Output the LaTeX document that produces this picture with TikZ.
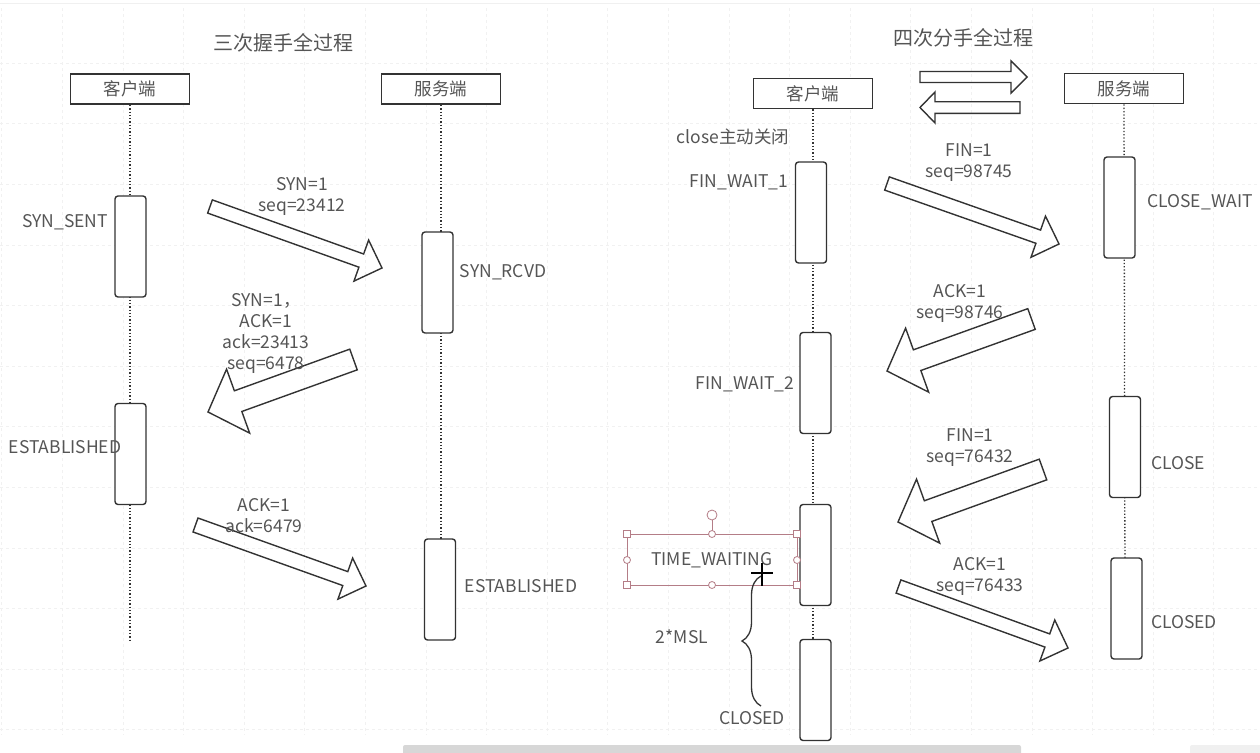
\documentclass[tikz,border=0pt]{standalone}
\usepackage{fontspec}
\setmainfont{Noto Sans CJK SC}
\usepackage{tikz}
\usetikzlibrary{calc,decorations.pathreplacing}

\definecolor{inkgray}{RGB}{51,51,51}
\definecolor{txtgray}{RGB}{85,85,85}
\definecolor{gridgray}{RGB}{241,241,241}
\definecolor{selpink}{RGB}{180,125,135}
\definecolor{barggray}{RGB}{215,215,215}

\tikzset{
  hdrbox/.style={draw=inkgray,line width=1.8pt,fill=white,minimum width=119pt,minimum height=30pt,inner sep=0pt,text=txtgray,font=\fontsize{17.5}{20}\selectfont},
  actbox/.style={draw=inkgray,line width=1.4pt,fill=white,rounded corners=3pt,minimum width=31pt,minimum height=101pt,inner sep=0pt},
  lifeline/.style={draw=inkgray,line width=1.3pt,dash pattern=on 1.3pt off 2pt},
  lbl/.style={text=txtgray,inner sep=0.75pt,align=center,font=\fontsize{17.5}{21}\selectfont},
  ttl/.style={text=txtgray,inner sep=0.75pt,font=\fontsize{20}{24}\selectfont},
  fatline/.style={draw=inkgray,line width=1.4pt,line join=miter},
  gridline/.style={draw=gridgray,line width=0.6pt,dash pattern=on 3pt off 3pt},
  selframe/.style={draw=selpink,line width=0.8pt},
}

% hollow block arrow: tail, tip, shaft half width, head half width, head length
\newcommand{\fatarrow}[5]{%
  \coordinate (hb) at ($(#2)!#5!(#1)$);
  \draw[fatline] ($(#1)!#3!90:(#2)$) -- ($(hb)!#3!90:(#2)$) -- ($(hb)!#4!90:(#2)$) -- (#2) -- ($(hb)!#4!-90:(#2)$) -- ($(hb)!#3!-90:(#2)$) -- ($(#1)!#3!-90:(#2)$) -- cycle;
}

\begin{document}
\begin{tikzpicture}[x=1pt,y=1pt,yscale=-1,xscale=1]
\useasboundingbox (0,0) rectangle (1260,752);

%Background grid
\foreach \gx in {0,...,20} \draw[gridline] ({1.6+60.6*\gx},8) -- ({1.6+60.6*\gx},735);
\foreach \gy in {1,...,12} \draw[gridline] (0,{2.4+60.6*\gy}) -- (1260,{2.4+60.6*\gy});
\draw[gray!12,line width=1pt] (0,4) -- (1260,4);
%Scroll bars
\fill[barggray,rounded corners=2pt] (403,745) rectangle (1021,755);
\fill[gray!12,rounded corners=2pt] (1190,745) rectangle (1265,755);

%%%%%%%% three-way handshake %%%%%%%%
\node[ttl] (ttlL) at (283,43) {三次握手全过程};

%Header boxes
\node[hdrbox] (cliL) at (130,89) {客户端};
\node[hdrbox] (srvL) at (441,89) {服务端};

%Lifelines
\coordinate (cliLend) at (130,640);
\coordinate (srvLend) at (441,540);
\draw[lifeline] (cliL.south) -- (cliLend);
\draw[lifeline] (srvL.south) -- (srvLend);

%Activation boxes
\node[actbox] (actL1) at (130.5,246.5) {};
\node[actbox] (actL2) at (130.5,454) {};
\node[actbox] (actS1) at (437.5,282.5) {};
\node[actbox] (actS2) at (440,589.5) {};

%Block arrows
\coordinate (synT) at (210,206.5);   \coordinate (synH) at (382,268);
\coordinate (sakT) at (353.5,359.5); \coordinate (sakH) at (208,412);
\coordinate (ackT) at (195.5,525);   \coordinate (ackH) at (366,586);
\fatarrow{synT}{synH}{7pt}{21.8pt}{22pt}
\fatarrow{sakT}{sakH}{11pt}{34pt}{32pt}
\fatarrow{ackT}{ackH}{7.4pt}{21.8pt}{22pt}

% Text Node
\node[lbl] (synsent) at (65,222) {SYN\_SENT};
\node[lbl] (synrcvd) at (503,272) {SYN\_RCVD};
\node[lbl] (estL) at (65,447) {ESTABLISHED};
\node[lbl] (estS) at (521,586) {ESTABLISHED};
\node[lbl] (synmsg) at (302,196.5) {SYN=1\\seq=23412};
\node[lbl] (sakmsg) at (266,333.5) {SYN=1，\\ACK=1\\ack=23413\\seq=6478};
\node[lbl] (ackmsg) at (264,515.5) {ACK=1\\ack=6479};

%%%%%%%% four-way wave %%%%%%%%
\node[ttl] (ttlR) at (963,38) {四次分手全过程};

%Header boxes
\node[hdrbox] (cliR) at (813,93.5) {客户端};
\node[hdrbox] (srvR) at (1124,88.5) {服务端};

%Two-way arrows
\coordinate (dirAT) at (920,77);    \coordinate (dirAH) at (1027,77);
\coordinate (dirBT) at (1020,107.5); \coordinate (dirBH) at (920,107.5);
\fatarrow{dirAT}{dirAH}{5.5pt}{16pt}{16pt}
\fatarrow{dirBT}{dirBH}{5.8pt}{15.5pt}{15pt}

%Lifelines
\coordinate (cliRend) at (813,700);
\coordinate (srvRend) at (1125,600);
\draw[lifeline] (cliR.south) -- (cliRend);
\draw[lifeline] (srvR.south) -- (srvRend);

%Activation boxes
\node[actbox] (actC1) at (811,212.5) {};
\node[actbox] (actC2) at (815.5,383) {};
\node[actbox] (actC3) at (815.5,555) {};
\node[actbox] (actC4) at (815.5,690) {};
\node[actbox] (actD1) at (1119.5,207.5) {};
\node[actbox] (actD2) at (1125,447) {};
\node[actbox] (actD3) at (1126.5,608.5) {};

%Block arrows
\coordinate (fin1T) at (887,183.5);  \coordinate (fin1H) at (1059,244);
\coordinate (ack1T) at (1031.5,319); \coordinate (ack1H) at (887,371);
\coordinate (fin2T) at (1043,469.5); \coordinate (fin2H) at (898,522);
\coordinate (ack2T) at (898.5,586.5); \coordinate (ack2H) at (1068,648);
\fatarrow{fin1T}{fin1H}{7pt}{21.8pt}{22pt}
\fatarrow{ack1T}{ack1H}{11pt}{34pt}{32pt}
\fatarrow{fin2T}{fin2H}{11pt}{34pt}{32pt}
\fatarrow{ack2T}{ack2H}{7pt}{21.8pt}{22pt}

%Selection frame round TIME_WAITING
\draw[selframe] (627,534) rectangle (797,585);
\draw[selframe] (712,534) -- (712,520);
\draw[selframe,fill=white] (712,515) circle (5);
\foreach \hx/\hy in {627/534,797/534,627/585,797/585}
  \draw[selframe,fill=white] (\hx-3.5,\hy-3.5) rectangle (\hx+3.5,\hy+3.5);
\foreach \hx/\hy in {712/534,712/585,627/560,797/560}
  \draw[selframe,fill=white] (\hx,\hy) circle (3.5);

%Brace for 2*MSL
\coordinate (mslTop) at (761,576);
\coordinate (mslBot) at (761,706);
\draw[inkgray,line width=1.3pt,decorate,decoration={brace,amplitude=19pt}] (mslBot) -- (mslTop);

% Text Node
\node[lbl] (closeact) at (733,137) {close主动关闭};
\node[lbl] (finw1) at (739,182) {FIN\_WAIT\_1};
\node[lbl] (closew) at (1200,202) {CLOSE\_WAIT};
\node[lbl] (fin1msg) at (969,162.5) {FIN=1\\seq=98745};
\node[lbl] (ack1msg) at (960,303.5) {ACK=1\\seq=98746};
\node[lbl] (finw2) at (745,384) {FIN\_WAIT\_2};
\node[lbl] (closeS) at (1178,463) {CLOSE};
\node[lbl] (fin2msg) at (970,447.5) {FIN=1\\seq=76432};
\node[lbl] (timew) at (712,560) {TIME\_WAITING};
\node[lbl] (ack2msg) at (980,576) {ACK=1\\seq=76433};
\node[lbl] (closedS) at (1184,622) {CLOSED};
\node[lbl] (msl) at (682,637) {2*MSL};
\node[lbl] (closedC) at (752,718) {CLOSED};

%Cursor
\draw[black,line width=1.6pt] (751,573) -- (773,573) (762,563) -- (762,586);

\end{tikzpicture}
\end{document}
